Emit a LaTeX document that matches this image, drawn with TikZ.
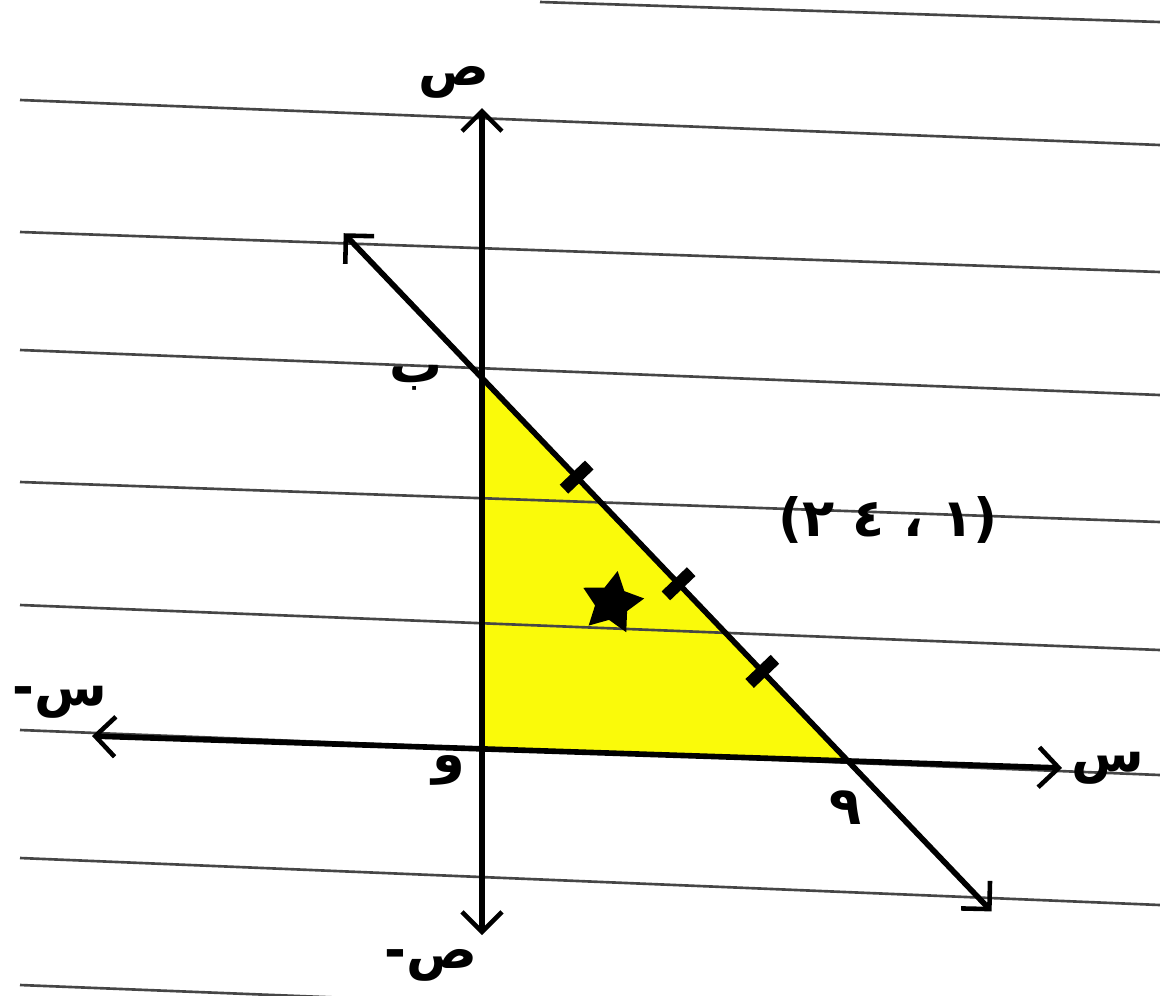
\documentclass[tikz,border=0pt]{standalone}
\usepackage{fontspec}
\newfontfamily\arabicfont[Script=Arabic]{DejaVu Sans}
\newfontfamily\plainfont{DejaVu Sans}
\TeXXeTstate=1
\usetikzlibrary{arrows.meta, positioning, shapes.geometric, calc}
\definecolor{paperline}{RGB}{70,70,70}
\definecolor{regionyellow}{RGB}{250,250,10}
\tikzset{
    paper/.style={paperline, line width=1.5pt},
    axis/.style={black, line width=3.2pt, {Straight Barb[length=4mm, width=8mm, line width=2.6pt]}-{Straight Barb[length=4mm, width=8mm, line width=2.6pt]}},
    region/.style={fill=regionyellow, draw=none},
    tickmark/.style={black, line width=7pt},
    lbl/.style={font=\arabicfont\fontsize{30}{30}\selectfont\bfseries, inner sep=1pt},
    starmark/.style={star, star points=5, star point ratio=1.9, fill=black, minimum size=1.3cm, inner sep=0pt, rotate=-10},
}

\begin{document}
\begin{tikzpicture}[x=0.02cm, y=-0.02cm]
\useasboundingbox[fill=white] (0,0) rectangle (1160,995);
\clip (0,0) rectangle (1160,995);

\coordinate (origin) at (482,748);
\coordinate (ytop) at (482,108);
\coordinate (ybot) at (482,935);
\coordinate (xleft) at (92,736);
\coordinate (xright) at (1062,768);
\coordinate (yint) at (482,378);
\coordinate (xint) at (846,759);
\coordinate (lineA) at ($(yint)!-0.38!(xint)$);
\coordinate (lineB) at ($(yint)!1.4!(xint)$);

% shaded region
\fill[region] (yint) -- (origin) -- (xint) -- cycle;

% ruled paper
\foreach \ya/\yb in {100/145, 232/272, 350/395, 482/522, 605/650, 730/775, 858/905, 985/1030}
    \draw[paper] (20,\ya) -- (1160,\yb);
\draw[paper] (540,2) -- (1160,22);

\draw[axis] (ybot) -- (ytop);
\draw[axis] (xleft) -- (xright);
\draw[axis] (lineA) -- (lineB);

\foreach \p/\n in {0.26/t1, 0.54/t2, 0.77/t3}
    \path (yint) -- (xint) coordinate[pos=\p] (\n);
\foreach \n in {t1, t2, t3}
    \draw[tickmark] ($(\n)!0.35cm!90:(xint)$) -- ($(\n)!0.35cm!-90:(xint)$);

\node[starmark] (star) at (612,603) {};

\node[lbl, above left=0.15cm and -0.2cm of ytop] (ylabel) {\beginR ص\endR};
\node[lbl, below left=0.25cm and 0.05cm of ybot] (yneg) {\beginR ص-\endR};
\node[lbl, right=0.15cm of xright] (xlabel) {\beginR س\endR};
\node[lbl] (xneg) at (60,702) {\beginR س-\endR};
\node[lbl, left=0.75cm of yint] (ylab) {\beginR ب\endR};
\node[lbl, below=0.6cm of xint] (xlab) {٩};
\node[lbl, below left=0.1cm and 0.3cm of origin] (olab) {\beginR و\endR};
\node[lbl] (point) at (888,520) {{\plainfont(}\beginR ١ ، ٤ ٢\endR{\plainfont)}};
\end{tikzpicture}
\end{document}
